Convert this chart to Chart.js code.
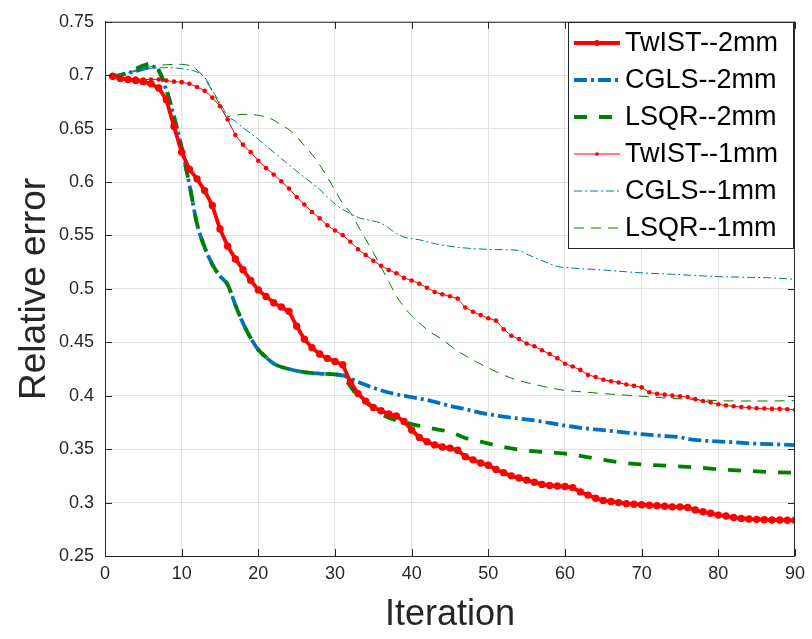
<!DOCTYPE html>
<html lang="en">
<head>
<meta charset="UTF-8">
<title>Relative error vs iteration</title>
<script src="https://cdn.jsdelivr.net/npm/chart.js"></script>
<style>
  html, body { margin: 0; padding: 0; background: #fff; }
  #wrap { width: 812px; height: 639px; }
</style>
</head>
<body>
<div id="wrap"><canvas id="errChart" width="812" height="639"></canvas></div>
<script>
// iterations 1..90 for the marker series
const twistIter = Array.from({ length: 90 }, (_, i) => i + 1);

const twist2mm = [
  0.699, 0.697, 0.696, 0.695, 0.694, 0.692, 0.688, 0.677, 0.652, 0.628,
  0.612, 0.603, 0.592, 0.578, 0.556, 0.540, 0.528, 0.518, 0.508, 0.499,
  0.493, 0.487, 0.483, 0.479, 0.465, 0.453, 0.445, 0.439, 0.435, 0.432,
  0.429, 0.413, 0.402, 0.395, 0.389, 0.386, 0.383, 0.381, 0.376, 0.368,
  0.361, 0.357, 0.354, 0.352, 0.351, 0.349, 0.343, 0.340, 0.337, 0.335,
  0.331, 0.328, 0.325, 0.323, 0.321, 0.319, 0.317, 0.316, 0.3155, 0.315,
  0.314, 0.310, 0.307, 0.304, 0.302, 0.301, 0.300, 0.299, 0.2985, 0.298,
  0.2975, 0.297, 0.2966, 0.296, 0.296, 0.2954, 0.293, 0.2914, 0.290, 0.2883,
  0.2874, 0.286, 0.2852, 0.2846, 0.2843, 0.284, 0.2837, 0.2837, 0.2834, 0.2834
];

const twist1mm = [
  0.700, 0.698, 0.697, 0.697, 0.696, 0.696, 0.696, 0.695, 0.694, 0.6935,
  0.692, 0.689, 0.6855, 0.679, 0.671, 0.6585, 0.644, 0.635, 0.628, 0.620,
  0.613, 0.607, 0.6006, 0.594, 0.586, 0.579, 0.572, 0.566, 0.5595, 0.5546,
  0.5503, 0.5442, 0.5371, 0.5318, 0.5263, 0.5217, 0.5177, 0.5146, 0.5103, 0.5078,
  0.5048, 0.5011, 0.4971, 0.4949, 0.4931, 0.4909, 0.4826, 0.4786, 0.4755, 0.4725,
  0.4703, 0.4623, 0.4562, 0.4531, 0.4488, 0.4463, 0.4426, 0.439, 0.435, 0.430,
  0.4273, 0.4242, 0.4195, 0.4175, 0.415, 0.4136, 0.4124, 0.4105, 0.4093, 0.4078,
  0.4032, 0.4019, 0.401, 0.4001, 0.3995, 0.3988, 0.3968, 0.3951, 0.3938, 0.392,
  0.3908, 0.3902, 0.3895, 0.3889, 0.3883, 0.388, 0.3877, 0.3877, 0.3874, 0.3868
];

const cgls2mmIter = [1, 2, 3, 4, 5, 6, 7, 8, 9, 10, 11, 12, 13, 14, 15, 16, 17, 18, 19, 20, 21, 22, 24, 26, 28, 30, 31,
  33, 35, 37, 40, 42, 45, 47, 49, 51, 53, 56, 58, 62, 65, 68, 70, 73, 75, 76, 78, 82, 85, 88, 90];
const cgls2mm = [0.699, 0.700, 0.702, 0.704, 0.706, 0.708, 0.704, 0.686, 0.661, 0.632, 0.598, 0.561, 0.539, 0.523,
  0.512, 0.504, 0.485, 0.468, 0.454, 0.443, 0.436, 0.430, 0.425, 0.422, 0.4207, 0.420, 0.419,
  0.413, 0.4075, 0.403, 0.3986, 0.396, 0.3905, 0.3875, 0.384, 0.3815, 0.3795, 0.377, 0.3745, 0.370,
  0.3678, 0.3655, 0.364, 0.3623, 0.3612, 0.3595, 0.358, 0.3565, 0.3551, 0.3544, 0.3538];

const lsqr2mmIter = [1, 2, 3, 4, 5, 6, 7, 8, 9, 10, 11, 12, 13, 14, 15, 16, 17, 18, 19, 20, 21, 22, 24, 26, 28, 30, 31,
  32, 33, 34, 36, 38, 40, 43, 45, 47, 49, 51, 54, 58, 61, 62, 65, 69, 73, 77, 81, 85, 88, 90];
const lsqr2mm = [0.699, 0.700, 0.703, 0.706, 0.709, 0.711, 0.705, 0.687, 0.661, 0.632, 0.598, 0.561, 0.539, 0.523,
  0.512, 0.504, 0.485, 0.468, 0.454, 0.443, 0.436, 0.430, 0.425, 0.422, 0.4207, 0.420, 0.418,
  0.409, 0.399, 0.394, 0.383, 0.377, 0.3735, 0.369, 0.366, 0.3605, 0.357, 0.3535, 0.3495, 0.347,
  0.345, 0.3437, 0.340, 0.3362, 0.3346, 0.333, 0.3307, 0.3292, 0.3283, 0.328];

const cgls1mmIter = [1, 2, 4, 6, 8, 10, 11, 12, 13, 14, 15, 16, 17, 18, 20, 22, 24, 26, 28, 30, 31, 33, 35, 36, 37, 38,
  39, 40, 41, 43, 46, 48, 51, 54, 55, 56, 57, 59, 61, 65, 68, 71, 74, 77, 80, 83, 87, 90];
const cgls1mm = [0.699, 0.701, 0.7035, 0.7063, 0.7071, 0.7062, 0.705, 0.703, 0.698, 0.686, 0.674, 0.662, 0.657,
  0.651, 0.640, 0.628, 0.616, 0.6045, 0.593, 0.5795, 0.5745, 0.567, 0.5635, 0.5615, 0.557, 0.552,
  0.5485, 0.547, 0.546, 0.5423, 0.539, 0.5377, 0.5368, 0.536, 0.5325, 0.5295, 0.5265, 0.521, 0.5195,
  0.5177, 0.516, 0.5146, 0.5137, 0.5125, 0.5115, 0.511, 0.5103, 0.509];

const lsqr1mmIter = [1, 2, 4, 6, 8, 10, 11, 12, 13, 14, 15, 16, 17, 18, 19, 20, 21, 22, 23, 24, 25, 26, 27, 28, 29, 30,
  31, 32, 33, 34, 35, 36, 37, 38, 39, 40, 42, 44, 46, 48, 50, 53, 57, 60, 62, 65, 68, 71, 74, 77, 80, 83, 87, 90];
const lsqr1mm = [0.699, 0.701, 0.7045, 0.708, 0.7098, 0.7102, 0.709, 0.705, 0.697, 0.685, 0.672, 0.661, 0.6625,
  0.6633, 0.6632, 0.6625, 0.661, 0.658, 0.6535, 0.649, 0.6425, 0.634, 0.626, 0.616, 0.6045, 0.5925,
  0.580, 0.5715, 0.559, 0.5465, 0.534, 0.5205, 0.507, 0.4935, 0.483, 0.475, 0.462, 0.4525, 0.4418,
  0.4335, 0.426, 0.4165, 0.409, 0.405, 0.4038, 0.402, 0.4005, 0.399, 0.3975, 0.3965, 0.3954, 0.3951,
  0.3951, 0.3954];

const xTicks = [0, 10, 20, 30, 40, 50, 60, 70, 80, 90];
const yTicks = ['0.25', '0.3', '0.35', '0.4', '0.45', '0.5', '0.55', '0.6', '0.65', '0.7', '0.75'];

const RED = '#ff0000';
const BLUE = '#0072bd';
const GREEN = '#008000';
const AXIS = '#262626';
const FONT = '"Liberation Sans", Arial, sans-serif';

function toPoints(xs, ys) {
  return xs.map((x, i) => ({ x: x, y: ys[i] }));
}

const datasets = [
  {
    label: 'TwIST--2mm', data: toPoints(twistIter, twist2mm),
    borderColor: RED, backgroundColor: RED, borderWidth: 3.8,
    pointRadius: 3.7, pointBorderWidth: 0, order: 1
  },
  {
    label: 'CGLS--2mm', data: toPoints(cgls2mmIter, cgls2mm),
    borderColor: BLUE, borderWidth: 3.8, borderDash: [13, 4, 3, 4],
    pointRadius: 0, cubicInterpolationMode: 'monotone', order: 5
  },
  {
    label: 'LSQR--2mm', data: toPoints(lsqr2mmIter, lsqr2mm),
    borderColor: GREEN, borderWidth: 3.8, borderDash: [13, 12],
    pointRadius: 0, cubicInterpolationMode: 'monotone', order: 4
  },
  {
    label: 'TwIST--1mm', data: toPoints(twistIter, twist1mm),
    borderColor: RED, backgroundColor: RED, borderWidth: 1,
    pointRadius: 2.3, pointBorderWidth: 0, order: 2
  },
  {
    label: 'CGLS--1mm', data: toPoints(cgls1mmIter, cgls1mm),
    borderColor: BLUE, borderWidth: 1, borderDash: [8, 3, 2, 3],
    pointRadius: 0, cubicInterpolationMode: 'monotone', order: 3
  },
  {
    label: 'LSQR--1mm', data: toPoints(lsqr1mmIter, lsqr1mm),
    borderColor: GREEN, borderWidth: 1, borderDash: [10, 7],
    pointRadius: 0, cubicInterpolationMode: 'monotone', order: 3
  }
];

// box on + inward ticks + boxed legend, matlab style
const matlabBox = {
  id: 'matlabBox',
  afterDraw(chart) {
    const ctx = chart.ctx;
    const a = chart.chartArea;
    const xs = chart.scales.x;
    const ys = chart.scales.y;
    ctx.save();
    ctx.strokeStyle = AXIS;
    ctx.lineWidth = 1;
    ctx.setLineDash([]);
    ctx.beginPath();
    ctx.moveTo(a.left, a.top + 0.5); ctx.lineTo(a.right, a.top + 0.5);
    ctx.moveTo(a.right - 0.5, a.top); ctx.lineTo(a.right - 0.5, a.bottom);
    xs.ticks.forEach(t => {
      const px = Math.round(xs.getPixelForValue(t.value)) + 0.5;
      ctx.moveTo(px, a.bottom); ctx.lineTo(px, a.bottom - 7);
      ctx.moveTo(px, a.top); ctx.lineTo(px, a.top + 7);
    });
    ys.ticks.forEach(t => {
      const py = Math.round(ys.getPixelForValue(t.value)) + 0.5;
      ctx.moveTo(a.left, py); ctx.lineTo(a.left + 7, py);
      ctx.moveTo(a.right, py); ctx.lineTo(a.right - 7, py);
    });
    ctx.stroke();

    // legend
    const lx = 568, ly = 22, lw = 225, lh = 226;
    ctx.fillStyle = '#fff';
    ctx.fillRect(lx, ly, lw, lh);
    ctx.strokeRect(lx + 0.5, ly + 0.5, lw, lh);
    ctx.font = '27px ' + FONT;
    ctx.textBaseline = 'middle';
    chart.data.datasets.forEach((ds, i) => {
      const y = 43 + i * 37;
      ctx.strokeStyle = ds.borderColor;
      ctx.lineWidth = ds.borderWidth;
      ctx.setLineDash(ds.borderDash || []);
      ctx.beginPath();
      ctx.moveTo(574, y); ctx.lineTo(620, y);
      ctx.stroke();
      ctx.setLineDash([]);
      if (ds.pointRadius > 0) {
        ctx.fillStyle = ds.borderColor;
        ctx.beginPath();
        ctx.arc(597, y, ds.pointRadius * 0.8, 0, Math.PI * 2);
        ctx.fill();
      }
      ctx.fillStyle = '#000';
      ctx.fillText(ds.label, 625, y + 1);
    });
    ctx.restore();
  }
};

new Chart(document.getElementById('errChart'), {
  type: 'line',
  data: { datasets: datasets },
  options: {
    responsive: false,
    animation: false,
    layout: { padding: { top: 15, right: 14, left: 0, bottom: 0 } },
    plugins: { legend: { display: false }, tooltip: { enabled: false } },
    scales: {
      x: {
        type: 'linear', min: 0, max: 90,
        afterFit: s => { s.height = 83; },
        afterBuildTicks: s => { s.ticks = xTicks.map(v => ({ value: v })); },
        ticks: {
          color: AXIS, padding: 7,
          font: { family: FONT, size: 18 },
          callback: v => String(v)
        },
        grid: { color: '#e3e3e3', drawTicks: false },
        border: { display: true, color: AXIS, width: 1 },
        title: {
          display: true, text: 'Iteration', color: AXIS,
          font: { family: FONT, size: 36 },
          padding: { top: 0, bottom: 2 }
        }
      },
      y: {
        type: 'linear', min: 0.25, max: 0.75,
        afterFit: s => { s.width = 105; },
        afterBuildTicks: s => { s.ticks = yTicks.map(v => ({ value: parseFloat(v) })); },
        ticks: {
          color: AXIS, padding: 11,
          font: { family: FONT, size: 18 },
          callback: (v, i) => yTicks[i]
        },
        grid: { color: '#e3e3e3', drawTicks: false },
        border: { display: true, color: AXIS, width: 1 },
        title: {
          display: true, text: 'Relative error', color: AXIS,
          font: { family: FONT, size: 37 },
          padding: { top: 13, bottom: 0 }
        }
      }
    }
  },
  plugins: [matlabBox]
});
</script>
</body>
</html>
